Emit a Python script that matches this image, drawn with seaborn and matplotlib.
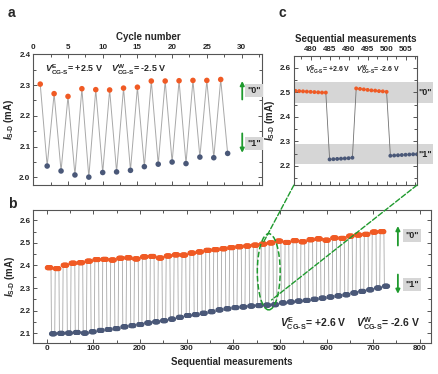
import numpy as np
import pandas as pd
import matplotlib.pyplot as plt
import seaborn as sns
from matplotlib.patches import Ellipse, Rectangle, ConnectionPatch
from matplotlib.ticker import MultipleLocator

# ---- panel a: one write/erase pair per cycle ----
cycle_a = list(range(1, 29))
isd_a = [2.303, 2.037, 2.272, 2.021, 2.263, 2.008, 2.288, 2.001, 2.285, 2.016,
         2.284, 2.018, 2.290, 2.023, 2.293, 2.035, 2.313, 2.043, 2.313, 2.050,
         2.314, 2.045, 2.315, 2.066, 2.315, 2.064, 2.318, 2.078]
state_a = ['0', '1'] * 14

# ---- panel b: cluster levels per cycle ("0" then "1") ----
level_0 = [2.390, 2.386, 2.401, 2.410, 2.412, 2.419, 2.426, 2.427, 2.424, 2.432,
           2.434, 2.429, 2.438, 2.440, 2.433, 2.442, 2.447, 2.446, 2.455, 2.460,
           2.467, 2.470, 2.474, 2.479, 2.483, 2.486, 2.490, 2.495, 2.500, 2.508,
           2.502, 2.510, 2.505, 2.514, 2.518, 2.512, 2.522, 2.520, 2.530, 2.535,
           2.538, 2.548, 2.550]
level_1 = [2.097, 2.099, 2.100, 2.103, 2.100, 2.106, 2.112, 2.116, 2.120, 2.128,
           2.133, 2.138, 2.145, 2.150, 2.155, 2.162, 2.170, 2.178, 2.182, 2.188,
           2.195, 2.203, 2.208, 2.213, 2.216, 2.220, 2.222, 2.224, 2.226, 2.234,
           2.238, 2.242, 2.245, 2.250, 2.255, 2.260, 2.265, 2.270, 2.278, 2.285,
           2.292, 2.300, 2.308]
n_reads_0 = 9
n_reads_1 = 8

# ---- panel c: zoom on measurements 476-508 ----
meas_c = list(range(476, 509))
isd_c = [2.506, 2.505, 2.504, 2.503, 2.502, 2.501, 2.500, 2.499, 2.499,
         2.226, 2.227, 2.228, 2.229, 2.230, 2.231, 2.233,
         2.516, 2.514, 2.512, 2.510, 2.508, 2.507, 2.505, 2.504, 2.502,
         2.241, 2.242, 2.243, 2.244, 2.245, 2.246, 2.247, 2.247]
state_c = ['0'] * 9 + ['1'] * 7 + ['0'] * 9 + ['1'] * 8

ORANGE = '#f05a24'
BLUE = '#4a5878'
GREEN = '#1f9a2e'
LINE = '#a8a8a8'
BOX = '#d6d6d6'
palette = {'0': ORANGE, '1': BLUE}

sns.set_style('ticks')
plt.rcParams['font.family'] = ['Liberation Sans', 'DejaVu Sans']
plt.rcParams['font.weight'] = 'bold'
plt.rcParams['axes.labelweight'] = 'bold'
plt.rcParams['mathtext.fontset'] = 'custom'
plt.rcParams['mathtext.rm'] = 'Liberation Sans:bold'
plt.rcParams['mathtext.it'] = 'Liberation Sans:italic:bold'
plt.rcParams['mathtext.bf'] = 'Liberation Sans:bold'
plt.rcParams['axes.edgecolor'] = '#555555'
plt.rcParams['axes.linewidth'] = 0.8

ylab = r'$I_{\rm S\text{-}D}$ (mA)'
vlab = r'$V^{\rm E}_{\rm CG\text{-}S}$= %s V    $V^{\rm W}_{\rm CG\text{-}S}$= %s V'


def style_axis(ax, xmaj, xmin, ymaj, ymin):
    ax.xaxis.set_major_locator(MultipleLocator(xmaj))
    ax.xaxis.set_minor_locator(MultipleLocator(xmin))
    ax.yaxis.set_major_locator(MultipleLocator(ymaj))
    ax.yaxis.set_minor_locator(MultipleLocator(ymin))
    ax.tick_params(which='both', direction='in', top=True, right=True,
                   labelsize=5.8, color='#555555', width=0.7, pad=2)
    ax.tick_params(which='major', length=3)
    ax.tick_params(which='minor', length=2.5)
    for lab in ax.get_xticklabels() + ax.get_yticklabels():
        lab.set_fontweight('bold')


def state_marks(ax, x0, yhi, ylo, xt):
    ax.annotate('', xy=(x0, yhi[1]), xytext=(x0, yhi[0]),
                arrowprops=dict(arrowstyle='-|>', color=GREEN, lw=1.3, mutation_scale=6))
    ax.annotate('', xy=(x0, ylo[1]), xytext=(x0, ylo[0]),
                arrowprops=dict(arrowstyle='-|>', color=GREEN, lw=1.3, mutation_scale=6))
    ax.text(xt, (yhi[0] + yhi[1]) / 2, '"0"', ha='center', va='center', fontsize=6.5,
            fontweight='bold', bbox=dict(facecolor=BOX, edgecolor='none', pad=1.5))
    ax.text(xt, (ylo[0] + ylo[1]) / 2, '"1"', ha='center', va='center', fontsize=6.5,
            fontweight='bold', bbox=dict(facecolor=BOX, edgecolor='none', pad=1.5))


fig = plt.figure(figsize=(4.38, 3.74), dpi=100)
ax_a = fig.add_axes([0.076, 0.505, 0.523, 0.350])
ax_c = fig.add_axes([0.671, 0.505, 0.281, 0.345])
ax_b = fig.add_axes([0.076, 0.084, 0.908, 0.354])

# panel a
df_a = pd.DataFrame({'x': cycle_a, 'y': isd_a, 'state': state_a})
sns.lineplot(data=df_a, x='x', y='y', sort=False, estimator=None, color=LINE,
             lw=0.7, ax=ax_a, zorder=1)
sns.scatterplot(data=df_a, x='x', y='y', hue='state', palette=palette, s=16,
                edgecolor='none', legend=False, ax=ax_a, zorder=2)
ax_a.set_xlim(0, 33)
ax_a.set_ylim(1.975, 2.4)
style_axis(ax_a, 5, 2.5, 0.1, 0.05)
ax_a.tick_params(labeltop=True, labelbottom=False)
ax_a.xaxis.set_label_position('top')
ax_a.set_xlabel('Cycle number', fontsize=7, labelpad=3)
ax_a.set_ylabel(ylab, fontsize=7, labelpad=2)
ax_a.text(1.7, 2.348, vlab % ('+2.5', '-2.5'), fontsize=6.5, va='center')
state_marks(ax_a, 30.1, (2.244, 2.322), (2.152, 2.071), 31.8)

# panel b
y_b, s_b = [], []
for hi, lo in zip(level_0, level_1):
    y_b += [hi] * n_reads_0 + [lo] * n_reads_1
    s_b += ['0'] * n_reads_0 + ['1'] * n_reads_1
df_b = pd.DataFrame({'x': np.arange(1, len(y_b) + 1), 'y': y_b, 'state': s_b})
sns.lineplot(data=df_b, x='x', y='y', sort=False, estimator=None, color=LINE,
             lw=0.6, ax=ax_b, zorder=1)
sns.scatterplot(data=df_b, x='x', y='y', hue='state', palette=palette, s=13,
                edgecolor='none', legend=False, ax=ax_b, zorder=2)
ax_b.set_xlim(-29, 824)
ax_b.set_ylim(2.058, 2.645)
style_axis(ax_b, 100, 50, 0.1, 0.05)
ax_b.set_xlabel('Sequential measurements', fontsize=7, labelpad=3)
ax_b.set_ylabel(ylab, fontsize=7, labelpad=2)
ax_b.text(500, 2.142, vlab % ('+2.6', '-2.6'), fontsize=7.5, va='center')
state_marks(ax_b, 753, (2.476, 2.587), (2.372, 2.262), 783)
ax_b.add_patch(Ellipse((476, 2.372), 49, 0.338, fill=False, ec=GREEN, ls='--',
                       lw=1.1, zorder=3))

# panel c
df_c = pd.DataFrame({'x': meas_c, 'y': isd_c, 'state': state_c})
for lo, hi in [(2.457, 2.543), (2.206, 2.291)]:
    ax_c.add_patch(Rectangle((0, lo), 1.128, hi - lo, transform=ax_c.get_yaxis_transform(),
                             facecolor=BOX, edgecolor='none', clip_on=False, zorder=0))
sns.lineplot(data=df_c, x='x', y='y', sort=False, estimator=None, color='#707070',
             lw=0.6, ax=ax_c, zorder=1)
sns.scatterplot(data=df_c, x='x', y='y', hue='state', palette=palette, s=8,
                edgecolor='none', legend=False, ax=ax_c, zorder=2)
ax_c.set_xlim(475.6, 508)
ax_c.set_ylim(2.121, 2.648)
style_axis(ax_c, 5, 2.5, 0.1, 0.05)
ax_c.tick_params(labeltop=True, labelbottom=False)
ax_c.xaxis.set_label_position('top')
ax_c.set_xlabel('Sequential measurements', fontsize=7, labelpad=3)
ax_c.set_ylabel(ylab, fontsize=7, labelpad=2)
ax_c.text(478.5, 2.588, vlab % ('+2.6', '-2.6'), fontsize=5, va='center')
ax_c.text(1.07, 2.5, '"0"', transform=ax_c.get_yaxis_transform(), ha='center',
          va='center', fontsize=6.5, fontweight='bold')
ax_c.text(1.07, 2.248, '"1"', transform=ax_c.get_yaxis_transform(), ha='center',
          va='center', fontsize=6.5, fontweight='bold')

# zoom connectors
for xa, xb in [((0, 0), (464, 2.50)), ((1, 0), (482, 2.247))]:
    con = ConnectionPatch(xyA=xa, coordsA=ax_c.transAxes, xyB=xb, coordsB=ax_b.transData,
                          color=GREEN, ls='--', lw=1.0)
    fig.add_artist(con)

for lab, x, y in [('a', 0.018, 0.965), ('b', 0.018, 0.455), ('c', 0.636, 0.965)]:
    fig.text(x, y, lab, fontsize=10, fontweight='bold', va='center')

fig.savefig('out.png', dpi=100)
